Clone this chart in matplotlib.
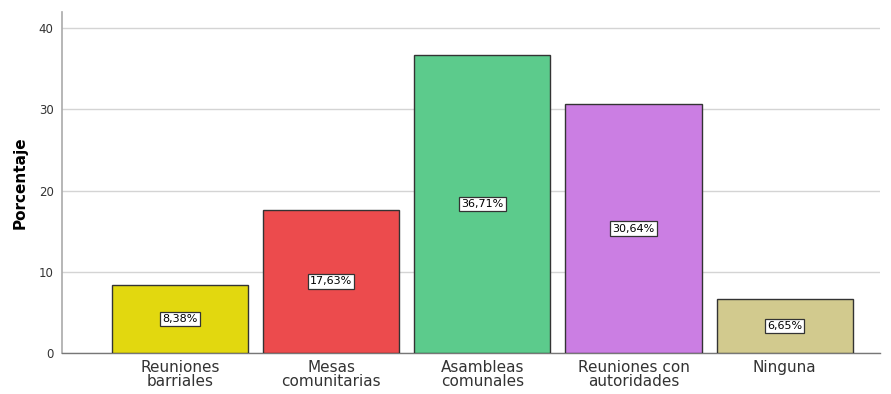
import numpy as np
import matplotlib.pyplot as plt

# data
categories = ['Reuniones\nbarriales', 'Mesas\ncomunitarias', 'Asambleas\ncomunales',
              'Reuniones con\nautoridades', 'Ninguna']
values = [8.38, 17.63, 36.71, 30.64, 6.65]
colors = ['#e2d80f', '#ec4b4d', '#5ccb8c', '#cb7ee3', '#d2ca8e']

fig = plt.figure(figsize=(8.91, 3.94), dpi=100)
ax = fig.add_axes([0.0696, 0.104, 0.918, 0.8655])

x = np.arange(len(categories))
ax.bar(x, values, width=0.9, color=colors, edgecolor='#333333', linewidth=1.0, zorder=3)

# boxed percentage labels in the middle of each bar
for xi, v in zip(x, values):
    ax.text(xi, v / 2, f'{v:.2f}%'.replace('.', ','), ha='center', va='center',
            fontsize=8, zorder=4,
            bbox=dict(boxstyle='square,pad=0.2', facecolor='white',
                      edgecolor='#333333', linewidth=0.9))

ax.set_xlim(-0.78, 4.63)
ax.set_ylim(0, 42)
ax.set_yticks([0, 10, 20, 30, 40])
ax.set_xticks(x)
ax.set_xticklabels(categories, fontsize=11, color='#333333', linespacing=0.95)
ax.tick_params(axis='y', labelsize=8.5, colors='#333333', length=0, pad=6)
ax.tick_params(axis='x', length=0, pad=5)
ax.yaxis.grid(True, color='#d4d4d4', linewidth=1.0, zorder=0)
ax.set_ylabel('Porcentaje', fontsize=11, fontweight='bold', labelpad=8)

for s in ['top', 'right']:
    ax.spines[s].set_visible(False)
ax.spines['left'].set_color('#aaaaaa')
ax.spines['left'].set_linewidth(1.2)
ax.spines['bottom'].set_color('#777777')
ax.spines['bottom'].set_linewidth(1.0)

fig.savefig('out.png', dpi=100)
